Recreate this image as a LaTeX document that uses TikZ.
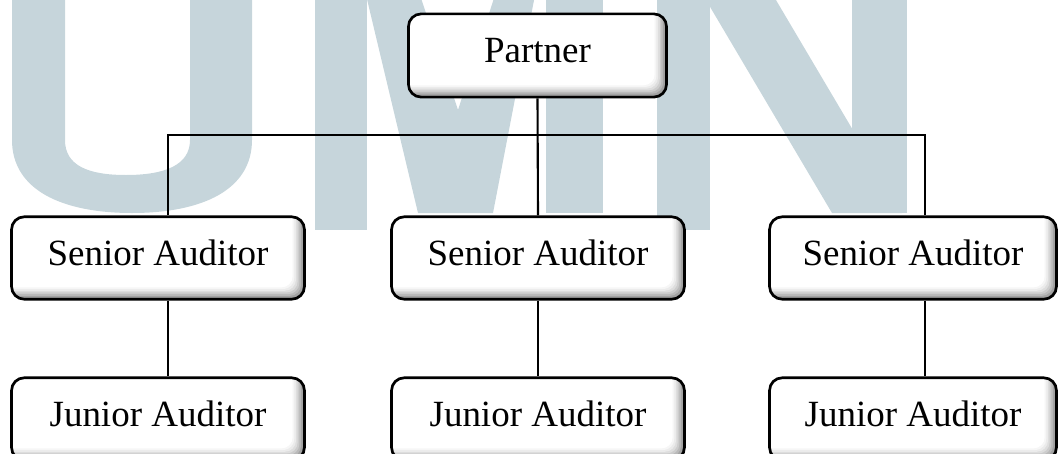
\documentclass[tikz,border=0pt]{standalone}
\usepackage{fontspec}
\setmainfont{Liberation Serif}
\definecolor{umnblue}{RGB}{198,213,219}
\begin{document}
\begin{tikzpicture}[x=0.025cm, y=-0.025cm,
  auditbox/.style={draw, line width=1.9pt, rounded corners=9pt, fill=white,
    inner sep=0pt, minimum height=2.06cm, font=\fontsize{26.3}{30}\selectfont,
    text height=18.1pt, text depth=7.6pt,
    path picture={
      \foreach \k/\c in {0/gray!90, 1/gray!72, 2/gray!55, 3/gray!40, 4/gray!27, 5/gray!16, 6/gray!7, 7/white}
        \fill[\c, rounded corners=8pt]
          ([xshift=-20pt, yshift=\k*1.2pt]path picture bounding box.south west) rectangle
          ([xshift=-\k*1.2pt, yshift=20pt]path picture bounding box.north east);
    }},
  link/.style={line width=1.5pt}]
\useasboundingbox (0,0) rectangle (1060,454);
\clip (0,0) rectangle (1060,454);

% Watermark letters
\fill[umnblue] (12,-5) -- (12,140) .. controls (12,190) and (62,213) .. (132,213)
  .. controls (202,213) and (252,190) .. (252,140) -- (252,-5) -- (190,-5) -- (190,140)
  .. controls (190,165) and (165,175) .. (126,175) .. controls (87,175) and (65,165) .. (65,140)
  -- (65,-5) -- cycle;
\fill[umnblue] (315,-5) rectangle (367,230);
\fill[umnblue] (366,-5) -- (420,-5) -- (458,110) -- (495,-5) -- (535,-5) -- (493,213) -- (418,213) -- cycle;
\fill[umnblue] (546,-5) rectangle (603,213);
\fill[umnblue] (657,-5) rectangle (710,230);
\fill[umnblue] (703,-5) -- (773,-5) -- (902,213) -- (832,213) -- cycle;
\fill[umnblue] (852,-5) rectangle (907,213);

% Boxes
\node[auditbox, minimum width=6.45cm, minimum height=2.08cm] (partner) at (537.5,55.5) {Partner};
\node[auditbox, minimum width=7.32cm] (senior1) at (158,258) {Senior Auditor};
\node[auditbox, minimum width=7.32cm] (senior2) at (538,258) {Senior Auditor};
\node[auditbox, minimum width=7.17cm] (senior3) at (913,258) {Senior Auditor};
\node[auditbox, minimum width=7.32cm] (junior1) at (158,419) {Junior Auditor};
\node[auditbox, minimum width=7.32cm] (junior2) at (538,419) {Junior Auditor};
\node[auditbox, minimum width=7.17cm] (junior3) at (913,419) {Junior Auditor};

% Connectors
\coordinate (busL) at (168,135);
\coordinate (busR) at (925,135);
\draw[link] (partner.south) -- (senior2.north);
\draw[link] (senior1.north -| busL) -- (busL) -- (busR) -- (senior3.north -| busR);
\draw[link] (senior1.south -| busL) -- (junior1.north -| busL);
\draw[link] (senior2.south) -- (junior2.north);
\draw[link] (senior3.south -| busR) -- (junior3.north -| busR);
\end{tikzpicture}
\end{document}
